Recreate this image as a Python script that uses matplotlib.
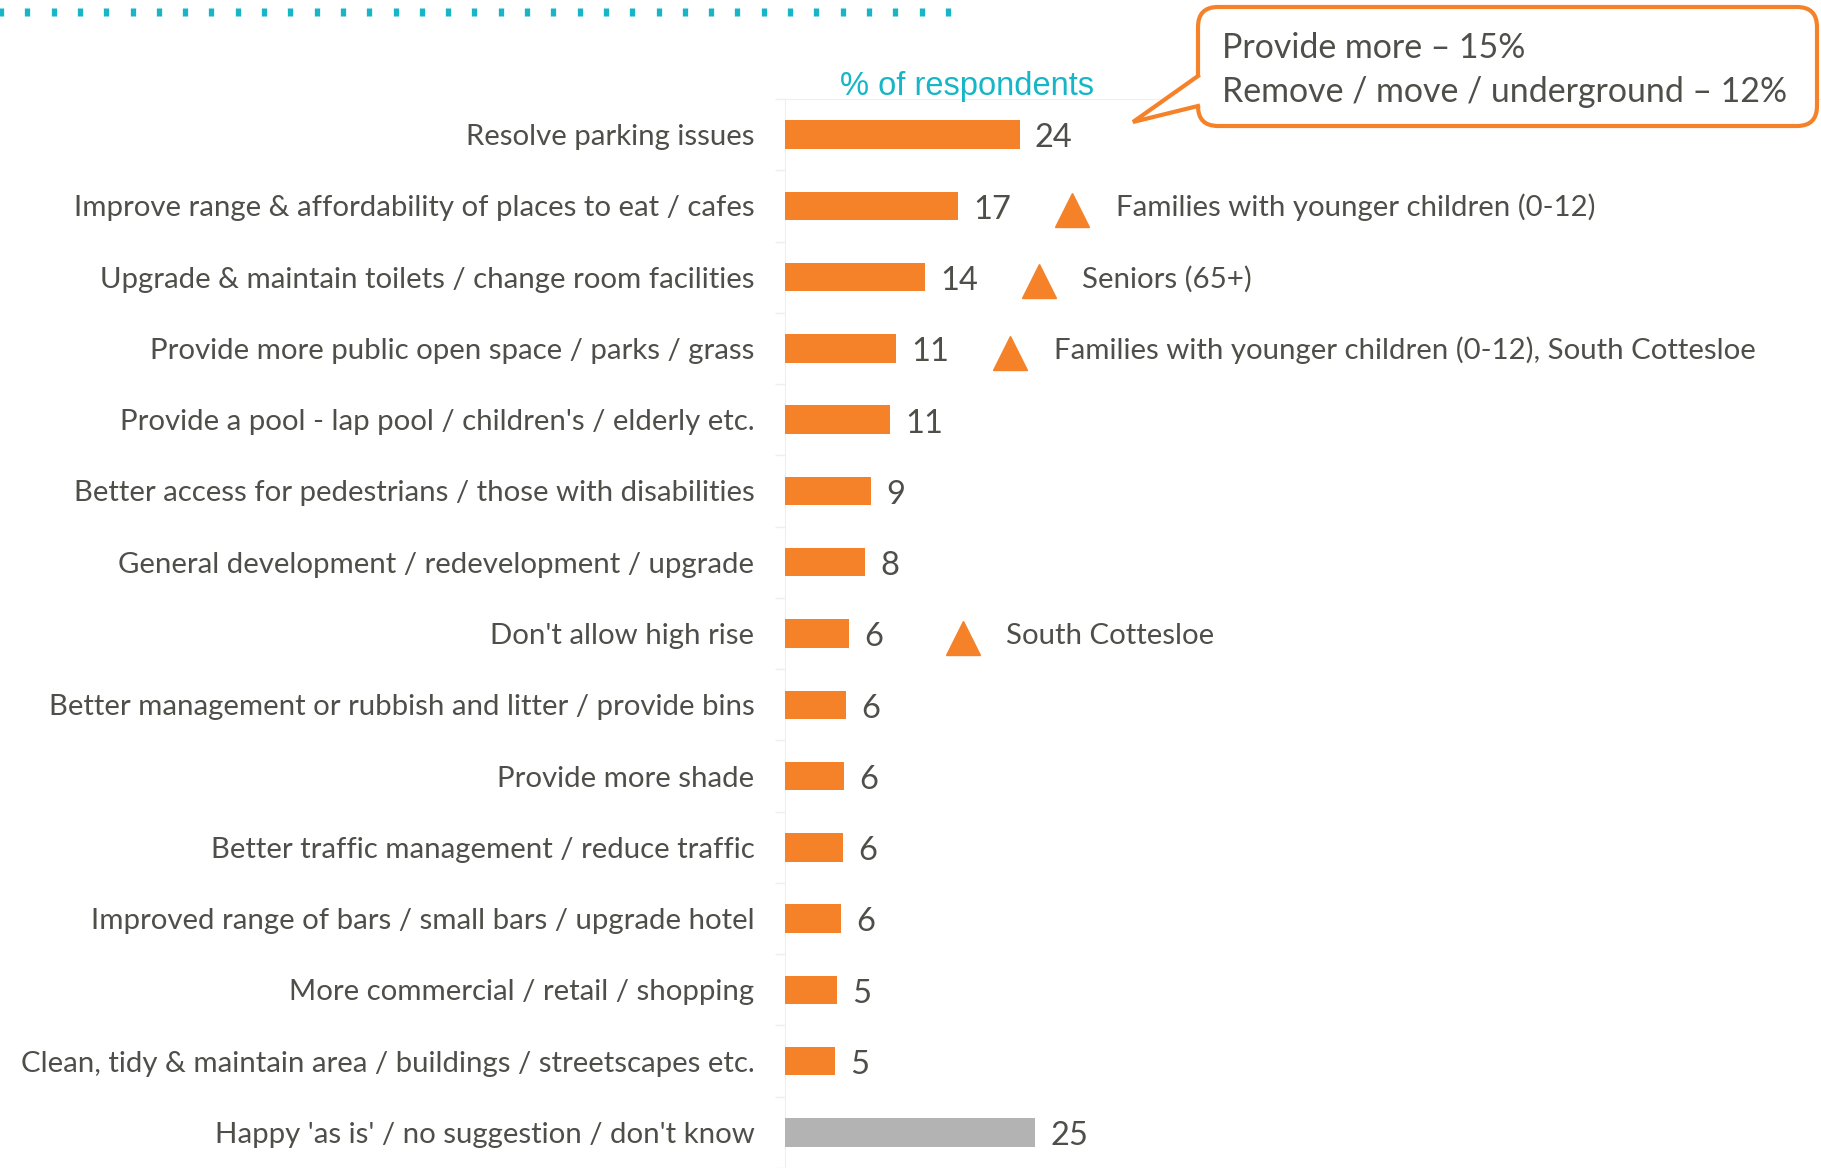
import matplotlib
matplotlib.use("Agg")
import matplotlib.pyplot as plt
import numpy as np
from matplotlib.patches import FancyBboxPatch, Polygon

plt.rcParams['font.family'] = ['Lato', 'DejaVu Sans']

categories = [
    "Resolve parking issues",
    "Improve range & affordability of places to eat / cafes",
    "Upgrade & maintain toilets / change room facilities",
    "Provide more public open space / parks / grass",
    "Provide a pool - lap pool / children's / elderly etc.",
    "Better access for pedestrians / those with disabilities",
    "General development / redevelopment / upgrade",
    "Don't allow high rise",
    "Better management or rubbish and litter / provide bins",
    "Provide more shade",
    "Better traffic management / reduce traffic",
    "Improved range of bars / small bars / upgrade hotel",
    "More commercial / retail / shopping",
    "Clean, tidy & maintain area / buildings / streetscapes etc.",
    "Happy 'as is' / no suggestion / don't know",
]
values = [23.5, 17.3, 14.0, 11.1, 10.5, 8.6, 8.0, 6.4, 6.1, 5.9, 5.8, 5.6, 5.2, 5.0, 25.0]
value_labels = ["24", "17", "14", "11", "11", "9", "8", "6", "6", "6", "6", "6", "5", "5", "25"]
highlight_rows = [1, 2, 3, 7]
highlight_texts = [
    "Families with younger children (0-12)",
    "Seniors (65+)",
    "Families with younger children (0-12), South Cottesloe",
    "South Cottesloe",
]
callout_lines = ["Provide more \u2013 15%", "Remove / move / underground \u2013 12%"]
title = "% of respondents"

ORANGE = "#F58229"
GREY = "#B3B3B3"
TEAL = "#17B6C6"
TEXT = "#4F4F4A"
FAINT = "#EFEFEF"

W, H = 1821, 1168
fig = plt.figure(figsize=(W / 100, H / 100), dpi=100)

# main axes laid out in pixels
ax_left, ax_top, row_px = 785, 99, 71.55
ax = fig.add_axes([ax_left / W, 0, (W - ax_left) / W, (H - ax_top) / H])
n = len(categories)
ax.set_xlim(0, (W - ax_left) / 10.0)
ax.set_ylim(-0.5 + (H - ax_top) / row_px, -0.5)

y = np.arange(n)
colors = [ORANGE] * (n - 1) + [GREY]
ax.barh(y, values, height=0.4, color=colors, zorder=3)

for i, (v, lab) in enumerate(zip(values, value_labels)):
    ax.text(v + 1.5, i + 0.18, lab, va="baseline", ha="left", fontsize=23.5, color=TEXT)

for r, t in zip(highlight_rows, highlight_texts):
    tx = values[r] + 11.4
    ax.plot([tx], [r + 0.06], marker="^", markersize=24, color=ORANGE, linestyle="none",
            zorder=4, clip_on=False)
    ax.text(tx + 4.35, r + 0.147, t, va="baseline", ha="left", fontsize=21.2, color=TEXT)

ax.set_yticks(y)
ax.set_yticklabels(categories, fontsize=21.2, color=TEXT)
ax.tick_params(axis="y", which="major", length=0, pad=22)
ax.set_yticks(np.arange(-0.5, n, 1.0), minor=True)
ax.tick_params(axis="y", which="minor", length=7, color=FAINT, width=1)
ax.set_xticks([])
for s in ["right", "bottom"]:
    ax.spines[s].set_visible(False)
ax.spines["left"].set_color(FAINT)
ax.spines["top"].set_color(FAINT)
ax.patch.set_alpha(0)

# overlay in pixel coordinates for decorations
ov = fig.add_axes([0, 0, 1, 1], zorder=5)
ov.set_xlim(0, W)
ov.set_ylim(H, 0)
ov.axis("off")
ov.patch.set_alpha(0)

# dotted teal line at top
dots_x = 1 + 26.3 * np.arange(37)
ov.plot(dots_x, np.full_like(dots_x, 12.0), linestyle="none", marker="|",
        markersize=6.2, markeredgewidth=3.8, color=TEAL, clip_on=False)

# title
ov.text(967, 86, title, ha="center", va="center", fontsize=23.5, color=TEAL,
        family=["Liberation Sans", "DejaVu Sans"])

# callout box
bx0, by0, bx1, by1 = 1198, 7, 1817, 126
box = FancyBboxPatch((bx0, by0), bx1 - bx0, by1 - by0,
                     boxstyle="round,pad=0,rounding_size=20",
                     facecolor="white", edgecolor=ORANGE, linewidth=3.0, zorder=6)
ov.add_patch(box)
p_top, p_bot, tip = (1198, 76), (1198, 106), (1133, 122)
ov.add_patch(Polygon([(p_top[0] + 3, p_top[1]), tip, (p_bot[0] + 3, p_bot[1])],
                     closed=True, facecolor="white", edgecolor="none", zorder=7))
ov.plot([p_top[0], tip[0], p_bot[0]], [p_top[1], tip[1], p_bot[1]], color=ORANGE,
        linewidth=3.0, solid_joinstyle="miter", zorder=8)
ov.text(1222, 48.5, callout_lines[0], ha="left", va="center", fontsize=24.4, color=TEXT, zorder=9)
ov.text(1222, 92.5, callout_lines[1], ha="left", va="center", fontsize=24.4, color=TEXT, zorder=9)

fig.savefig("out.png", dpi=100, facecolor="white")
